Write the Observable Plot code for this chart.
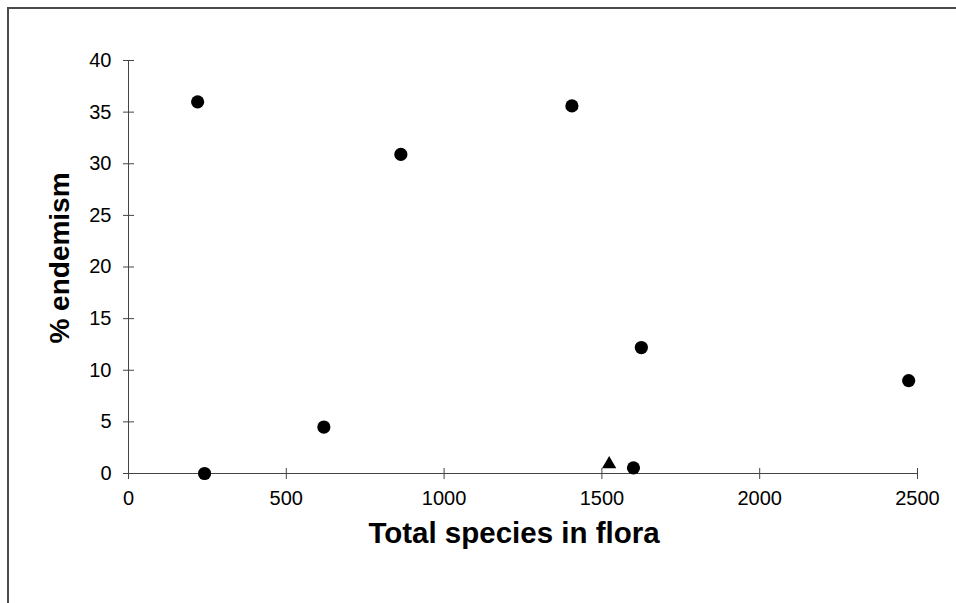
<!DOCTYPE html>
<html>
<head>
<meta charset="utf-8">
<script src="https://cdn.jsdelivr.net/npm/d3@7"></script>
<script src="https://cdn.jsdelivr.net/npm/@observablehq/plot@0.6"></script>
<style>
  html, body { margin: 0; padding: 0; background: #fff; }
  #wrap { position: relative; width: 956px; height: 603px; overflow: hidden; }
  #border { position: absolute; left: 7px; top: 7px; width: 960px; height: 610px;
            border-top: 2px solid #4a4a4a; border-left: 2px solid #4a4a4a; }
  #chart { position: absolute; left: 0; top: 0; }
</style>
</head>
<body>
<div id="wrap"><div id="border"></div><div id="chart"></div></div>
<script>
// Circles: total species in flora vs % endemism
const species   = [219, 241, 619, 863, 1405, 1600, 1625, 2472];
const endemism  = [36.0, 0.0, 4.5, 30.9, 35.6, 0.55, 12.2, 9.0];
// Triangle point
const triSpecies  = [1523];
const triEndemism = [0.9];
// Tick labels
const xTicks = [0, 500, 1000, 1500, 2000, 2500];
const yTicks = [0, 5, 10, 15, 20, 25, 30, 35, 40];

const circles = species.map((s, i) => ({x: s, y: endemism[i]}));
const tris = triSpecies.map((s, i) => ({x: s, y: triEndemism[i]}));

const font = "'Liberation Sans', Arial, Helvetica, sans-serif";

const chart = Plot.plot({
  width: 956,
  height: 603,
  marginLeft: 128,
  marginRight: 39,
  marginTop: 60,
  marginBottom: 130,
  style: {fontFamily: font, background: "transparent", color: "#000"},
  x: {domain: [0, 2500]},
  y: {domain: [0, 40]},
  marks: [
    Plot.ruleX([0], {y1: 0, y2: 40, stroke: "#444", strokeWidth: 1}),
    Plot.ruleY([0], {x1: 0, x2: 2500, stroke: "#444", strokeWidth: 1}),
    Plot.axisY(yTicks, {tickSize: 5, tickPadding: 12, fontSize: 20, label: null, stroke: "#444", tickFormat: d => String(d)}),
    Plot.axisY(yTicks, {tickSize: 6, dx: 6, text: null, label: null, stroke: "#444"}),
    Plot.axisX(xTicks, {tickSize: 6, tickPadding: 11, fontSize: 20, label: null, stroke: "#444", tickFormat: d => String(d)}),
    Plot.axisX(xTicks, {tickSize: 5, dy: -5, text: null, label: null, stroke: "#444"}),
    Plot.text(["Total species in flora"], {frameAnchor: "bottom", textAnchor: "middle", lineAnchor: "middle", dx: -9, dy: 60, fontSize: 29.5, fontWeight: "bold", fill: "#000"}),
    Plot.text(["% endemism"], {frameAnchor: "left", textAnchor: "middle", lineAnchor: "middle", dx: -68, dy: -9, rotate: -90, fontSize: 28, fontWeight: "bold", fill: "#000"}),
    Plot.dot(circles, {x: "x", y: "y", r: 6.6, fill: "#000", stroke: "none"}),
    Plot.dot(tris, {x: "x", y: "y", r: 5.3, symbol: "triangle", fill: "#000", stroke: "none"})
  ]
});
document.getElementById("chart").appendChild(chart);
</script>
</body>
</html>
